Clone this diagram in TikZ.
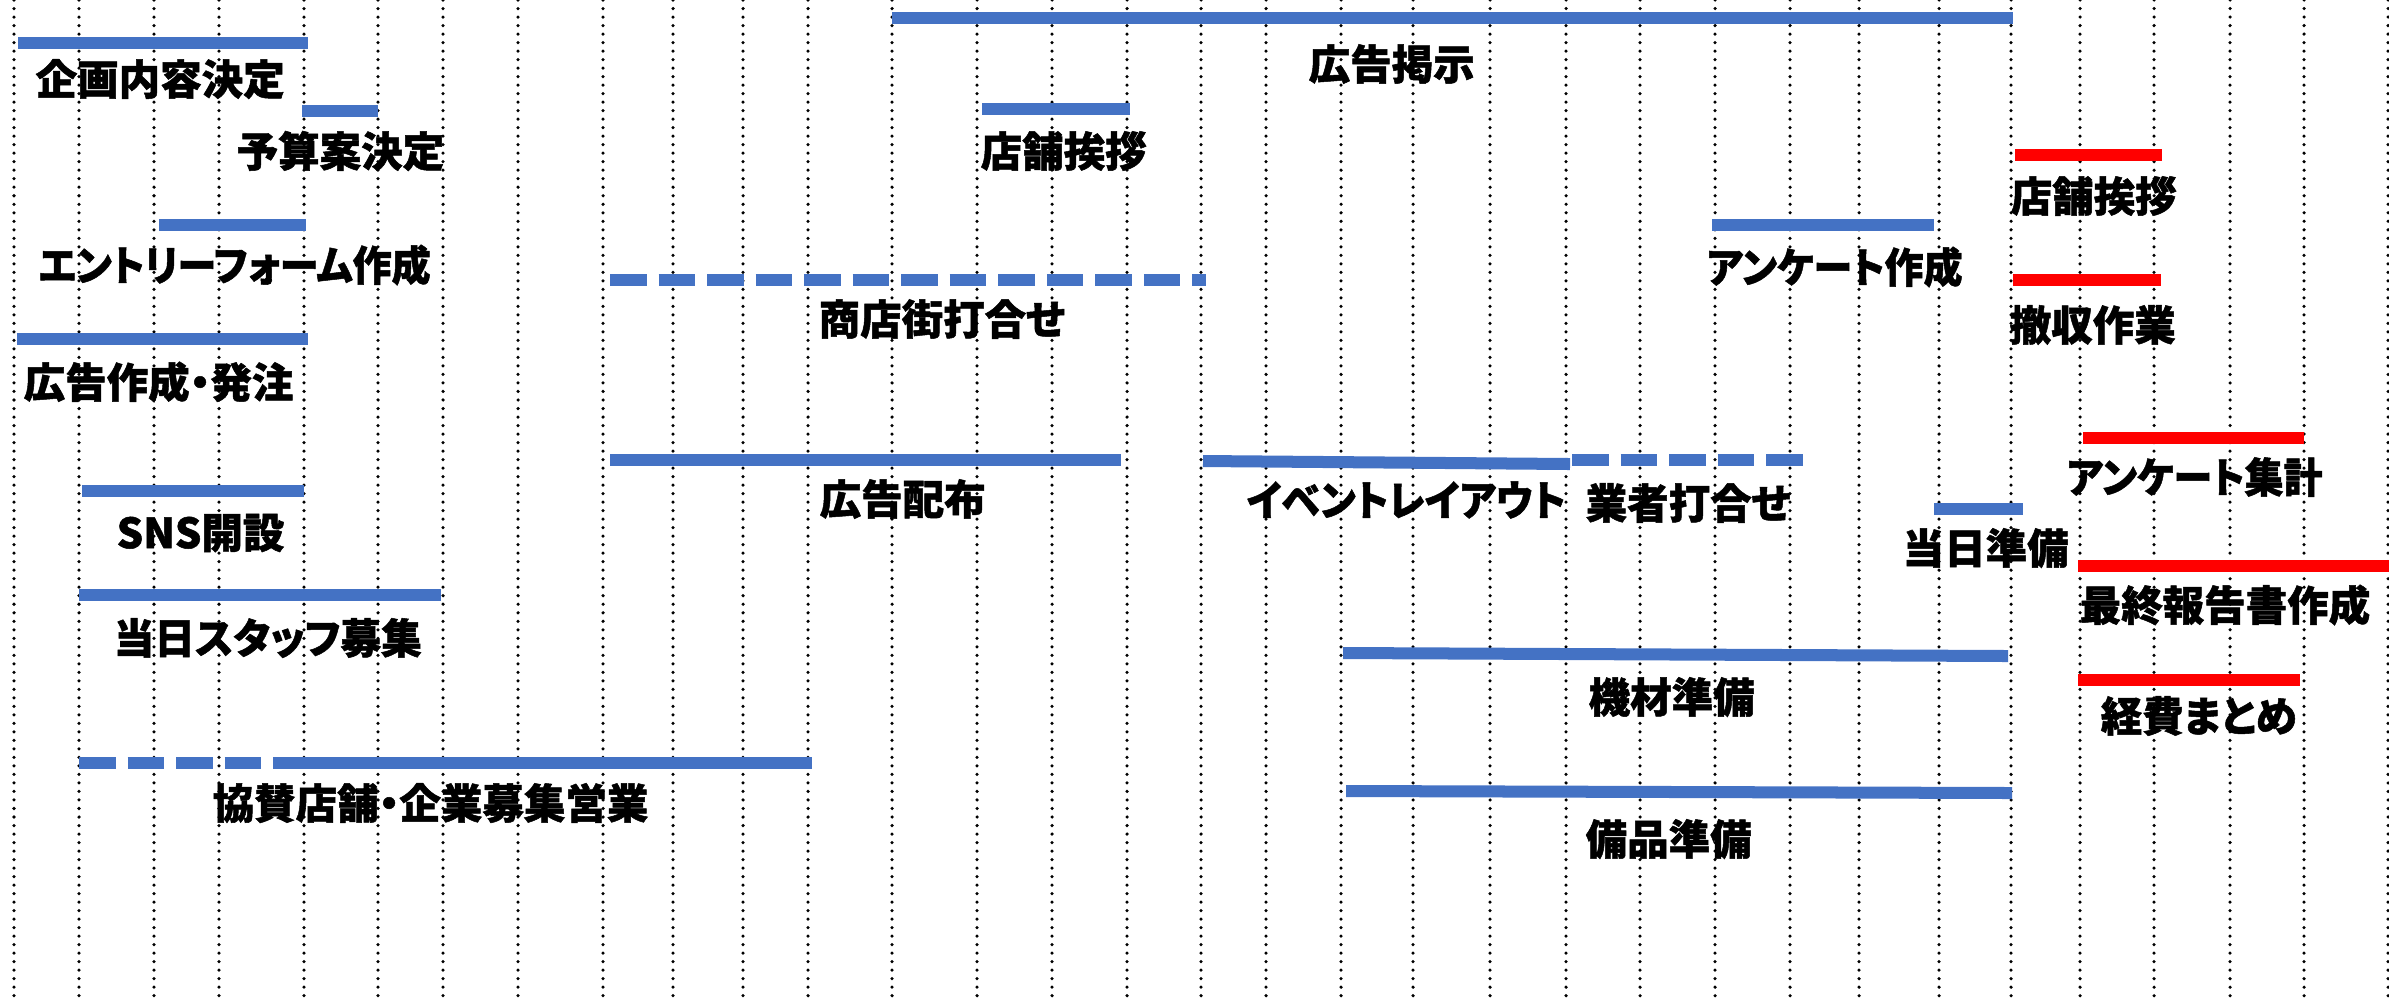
\documentclass[tikz,border=0pt]{standalone}
\usepackage{fontspec}
\usepackage{tikz}
\newfontfamily\jpfont{Noto Sans CJK JP}[RawFeature=+palt,BoldFeatures={FakeBold=1.2}]
\definecolor{barblue}{RGB}{68,114,196}
\definecolor{barred}{RGB}{255,0,0}
\newcommand{\narrow}[1]{\scalebox{0.94}[1]{#1}}

\begin{document}
\begin{tikzpicture}[x=0.01cm,y=-0.01cm,every node/.style={inner sep=0pt,anchor=west,font=\jpfont\bfseries\fontsize{11.8pt}{14pt}\selectfont},
	bar/.style={line width=0.12cm,barblue}, redbar/.style={line width=0.12cm,barred}, dbar/.style={bar,dash pattern=on 0.365cm off 0.12cm}]
	\useasboundingbox (0,0) rectangle (2389,999);
	%%dotted day lines drawn with a loop
	\foreach \x in {14,79,154,219,304,378,443,518,603,673,743,808,892,977,1052,1127,1201,1266,1341,1413,1490,1566,1640,1715,1790,1859,1939,2011,2080,2154,2230,2304,2388}{
		\draw[line width=1pt,line cap=round,dash pattern=on 0pt off 2.42pt] (\x,0) -- (\x,999);
		}
	%% blue bars
	\draw[bar] (18,43) -- (308,43);
	\draw[bar] (302,111) -- (378,111);
	\draw[bar] (159,225) -- (306,225);
	\draw[bar] (17,339) -- (308,339);
	\draw[bar] (82,491) -- (304,491);
	\draw[bar] (79,595) -- (441,595);
	\draw[dbar] (79,763) -- (306,763);\draw[bar] (306,763) -- (812,763);
	\draw[bar] (892,18) -- (2013,18);
	\draw[bar] (982,109) -- (1130,109);
	\draw[dbar] (610,280) -- (1206,280);
	\draw[bar] (610,460) -- (1121,460);
	\draw[bar] (1203,461) -- (1570,464);
	\draw[dbar] (1572,460) -- (1803,460);
	\draw[bar] (1712,225) -- (1934,225);
	\draw[bar] (1934,509) -- (2023,509);
	\draw[bar] (1343,653) -- (2008,656);
	\draw[bar] (1346,791) -- (2012,793);
	%% red bars
	\draw[redbar] (2015,155) -- (2162,155);
	\draw[redbar] (2013,280) -- (2161,280);
	\draw[redbar] (2083,438) -- (2304,438);
	\draw[redbar] (2078,566) -- (2389,566);
	\draw[redbar] (2078,680) -- (2300,680);
	%labels
	\node (kikaku) at (35,79){企画内容決定};
	\node (yosan) at (236,151){予算案決定};
	\node (entry) at (38,265){\narrow{エントリーフォーム作成}};
	\node (koukoku) at (23,382){広告作成・発注};
	\node (sns) at (116,533){SNS開設};
	\node (staff) at (113,638){\scalebox{0.98}[1]{当日スタッフ募集}};
	\node (kyousan) at (212,803){協賛店舗・企業募集営業};
	\node (keiji) at (1308,64){広告掲示};
	\node (aisatsu) at (980,151){店舗挨拶};
	\node (shoten) at (818,319){商店街打合せ};
	\node (haifu) at (819,499){広告配布};
	\node (layout) at (1246,500){\narrow{イベントレイアウト}};
	\node (gyousha) at (1585,503){業者打合せ};
	\node (anksaku) at (1706,267){\narrow{アンケート作成}};
	\node (aisatsu2) at (2010,196){店舗挨拶};
	\node (tesshu) at (2009,325){撤収作業};
	\node (ankshu) at (2066,477){\narrow{アンケート集計}};
	\node (junbi) at (1902,548){当日準備};
	\node (houkoku) at (2079,605){最終報告書作成};
	\node (kizai) at (1588,697){機材準備};
	\node (bihin) at (1585,839){備品準備};
	\node (keihi) at (2100,716){経費まとめ};
\end{tikzpicture}
\end{document}
